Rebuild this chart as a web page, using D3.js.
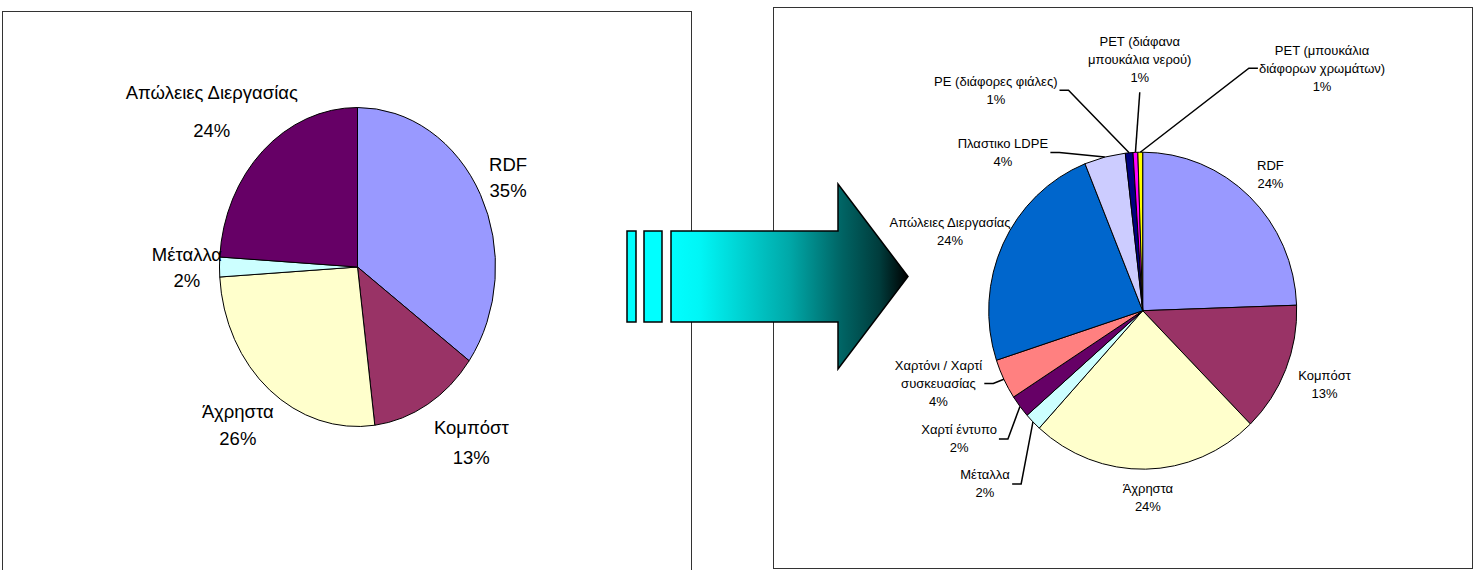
<!DOCTYPE html>
<head><meta charset="utf-8"/></head>
<style>
body { margin: 0; background: #fff; }
svg { display: block; font-family: "Liberation Sans", Arial, sans-serif; }
.panel { fill: #fff; stroke: #333; stroke-width: 1; }
.slice { stroke: #000; stroke-width: 1; vector-effect: non-scaling-stroke; }
.leader { fill: none; stroke: #000; stroke-width: 1.5; }
.arrow { stroke: #000; stroke-width: 1.5; }
</style>
<script src="https://d3js.org/d3.v7.min.js"></script>
<body>
<div id="chart"></div>
</body>
<script>

// left pie: before sorting
var beforeCats = ["RDF", "Κομπόστ", "Άχρηστα", "Μέταλλα", "Απώλειες Διεργασίας"];
var beforeValues = [35, 13, 26, 2, 24];
var beforeColors = ["#9999FF", "#993366", "#FFFFCC", "#CCFFFF", "#660066"];

// right pie: after sorting
var afterCats = ["RDF", "Κομπόστ", "Άχρηστα", "Μέταλλα", "Χαρτί έντυπο",
    "Χαρτόνι / Χαρτί\nσυσκευασίας", "Απώλειες Διεργασίας", "Πλαστικο LDPE",
    "PE (διάφορες φιάλες)", "PET (διάφανα\nμπουκάλια νερού)", "PET (μπουκάλια\nδιάφορων χρωμάτων)"];
var afterValues = [24.4, 13.2, 24.0, 1.8, 2.3, 4.1, 23.9, 4.3, 0.8, 0.5, 0.5];
var afterColors = ["#9999FF", "#993366", "#FFFFCC", "#CCFFFF", "#660066",
    "#FF8080", "#0066CC", "#CCCCFF", "#000080", "#FF00FF", "#FFFF00"];

// label placement (angle clockwise from 12 o'clock, distance in pie radii)
var beforeLabelAngle = [64.4, 144.2, 220.0, 268.1, 311.5];
var beforeLabelDist = [1.21, 1.41, 1.349, 1.237, 1.41];
var beforeLineGap = [26, 30, 27, 26, 38];
var afterLabelAngle = [44.9, 112.8, 178.4, 222.4, 234.9, 249.8, 290.7, 316.9, 325.0, 359.3, 37.8];
var afterLabelDist = [1.175, 1.281, 1.209, 1.519, 1.457, 1.413, 1.337, 1.329, 1.663, 1.555, 1.9];
var afterLeader = [false, false, false, true, true, true, false, true, true, true, true];

var width = 1480, height = 570;

var svg = d3.select("#chart").append("svg")
    .attr("width", width)
    .attr("height", height);

// the two chart frames
svg.append("rect").attr("class", "panel")
    .attr("x", 2.5).attr("y", 11.5).attr("width", 689).attr("height", 600);
svg.append("rect").attr("class", "panel")
    .attr("x", 773.5).attr("y", 7.5).attr("width", 699).attr("height", 561);

// block arrow between the charts
var arrow = {bars: [[627, 9], [644, 18]], x0: 671, x1: 838, tip: 908,
    top: 231, bot: 322, headTop: 184, headBot: 369};

var grad = svg.append("defs").append("linearGradient")
    .attr("id", "arrowGrad")
    .attr("gradientUnits", "userSpaceOnUse")
    .attr("x1", arrow.x0).attr("x2", arrow.tip)
    .attr("y1", 0).attr("y2", 0);
[[0, "#00FFFF"], [0.12, "#00F6F6"], [0.5, "#00A8A8"], [0.72, "#006464"], [0.88, "#003c3c"], [1, "#000000"]]
    .forEach(function(s) {
        grad.append("stop").attr("offset", s[0]).attr("stop-color", s[1]);
    });

arrow.bars.forEach(function(b) {
    svg.append("rect").attr("class", "arrow")
        .attr("x", b[0]).attr("y", arrow.top)
        .attr("width", b[1]).attr("height", arrow.bot - arrow.top)
        .attr("fill", "#00FFFF");
});
var midY = (arrow.headTop + arrow.headBot) / 2;
svg.append("path").attr("class", "arrow")
    .attr("fill", "url(#arrowGrad)")
    .attr("stroke-linejoin", "miter")
    .attr("d", d3.line()([
        [arrow.x0, arrow.top], [arrow.x1, arrow.top], [arrow.x1, arrow.headTop],
        [arrow.tip, midY],
        [arrow.x1, arrow.headBot], [arrow.x1, arrow.bot], [arrow.x0, arrow.bot]
    ]) + "Z");

function drawPie(opt) {
    var pie = d3.pie().sort(null).value(function(d) { return d; });
    var arcs = pie(opt.values);
    var arc = d3.arc().innerRadius(0).outerRadius(100);

    var g = svg.append("g")
        .attr("transform", "translate(" + opt.cx + "," + opt.cy + ")");

    g.append("g")
        .attr("transform", "scale(" + opt.rx / 100 + "," + opt.ry / 100 + ")")
        .selectAll("path")
        .data(arcs)
        .enter().append("path")
        .attr("class", "slice")
        .attr("d", arc)
        .attr("fill", function(d, i) { return opt.colors[i]; });

    function onEdge(a, k) {
        return [opt.rx * k * Math.sin(a), -opt.ry * k * Math.cos(a)];
    }

    var leaders = g.append("g");

    g.selectAll("g.lbl")
        .data(arcs)
        .enter().append("g")
        .attr("class", "lbl")
        .each(function(d, i) {
            var p = onEdge(opt.labelAngle[i] * Math.PI / 180, opt.labelDist[i]);
            var lines = opt.cats[i].split("\n").concat([Math.round(d.data) + "%"]);
            var gap = opt.lineGap ? opt.lineGap[i] : opt.lineHeight;
            var t = d3.select(this).append("text")
                .attr("text-anchor", "middle")
                .style("font-size", opt.fontSize + "px")
                .attr("fill", "#000");
            lines.forEach(function(s, j) {
                t.append("tspan")
                    .attr("x", p[0])
                    .attr("y", p[1] + (j - (lines.length - 1) / 2) * gap)
                    .text(s);
            });

            if (!opt.leader || !opt.leader[i]) return;
            var bb = t.node().getBBox();
            var end = onEdge((d.startAngle + d.endAngle) / 2, 1);
            var pts;
            if (bb.y + bb.height < -opt.ry && Math.abs(p[0]) < bb.width / 2) {
                pts = [[p[0], bb.y + bb.height + 7], end];
            } else if (p[0] < 0) {
                var s0 = [bb.x + bb.width + 2, bb.y + bb.height / 2];
                pts = [s0, [s0[0] + 9, s0[1]], end];
            } else {
                var s1 = [bb.x - 1, bb.y + bb.height / 2];
                pts = [s1, [s1[0] - 9, s1[1]], end];
            }
            leaders.append("path").attr("class", "leader").attr("d", d3.line()(pts));
        });
}

drawPie({
    cats: beforeCats, values: beforeValues, colors: beforeColors,
    cx: 357.5, cy: 267, rx: 138, ry: 159.5,
    labelAngle: beforeLabelAngle, labelDist: beforeLabelDist,
    lineGap: beforeLineGap, fontSize: 18.5
});

drawPie({
    cats: afterCats, values: afterValues, colors: afterColors,
    cx: 1142.7, cy: 310.7, rx: 154, ry: 158.5,
    labelAngle: afterLabelAngle, labelDist: afterLabelDist,
    lineHeight: 18, fontSize: 13, leader: afterLeader
});

</script>
